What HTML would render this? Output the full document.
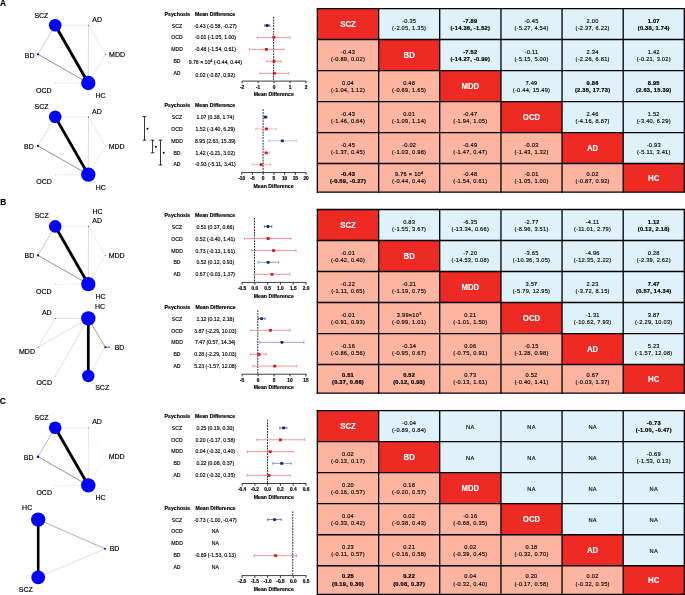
<!DOCTYPE html>
<html><head><meta charset="utf-8"><title>Figure</title>
<style>
html,body{margin:0;padding:0;background:#fff;}
body{width:685px;height:595px;overflow:hidden;}
svg{display:block;font-family:"Liberation Sans", sans-serif;will-change:transform;}
svg text{font-family:"Liberation Sans", sans-serif;}
svg text.n{stroke:#000;stroke-width:0.14px;}
svg text.bc{stroke:#000;stroke-width:0.2px;}
svg text.b{stroke:#000;stroke-width:0.17px;font-weight:bold;}
</style></head><body>
<svg width="685" height="595" viewBox="0 0 685 595">
<rect width="685" height="595" fill="#fff"/>
<text x="0.0" y="5.7" font-size="8.3" font-weight="bold" stroke="#000" stroke-width="0.15">A</text>
<text x="0.35" y="204.9" font-size="8.3" font-weight="bold" stroke="#000" stroke-width="0.15">B</text>
<text x="-0.2" y="403.8" font-size="8.3" font-weight="bold" stroke="#000" stroke-width="0.15">C</text>
<line x1="55.20" y1="25.30" x2="88.50" y2="25.30" stroke="#dedede" stroke-width="0.55"/>
<line x1="88.50" y1="25.30" x2="88.30" y2="83.00" stroke="#cacaca" stroke-width="0.65"/>
<line x1="88.50" y1="25.30" x2="105.30" y2="54.40" stroke="#dcdce4" stroke-width="0.55"/>
<line x1="105.30" y1="54.40" x2="88.30" y2="83.00" stroke="#dedee4" stroke-width="0.55"/>
<line x1="55.20" y1="83.20" x2="88.30" y2="83.00" stroke="#dcdcec" stroke-width="0.5"/>
<line x1="55.20" y1="25.30" x2="38.00" y2="54.30" stroke="#8a8a8a" stroke-width="0.45"/>
<line x1="38.00" y1="54.30" x2="88.30" y2="83.00" stroke="#222" stroke-width="0.5"/>
<line x1="55.20" y1="25.30" x2="88.30" y2="83.00" stroke="#000" stroke-width="2.9"/>
<circle cx="55.20" cy="25.30" r="6.3" fill="#0000ff"/>
<circle cx="88.30" cy="83.00" r="7.2" fill="#0000ff"/>
<circle cx="38.00" cy="54.30" r="1.15" fill="#0000ff"/>
<circle cx="88.50" cy="25.30" r="0.55" fill="#3030ff"/>
<circle cx="105.30" cy="54.40" r="0.6" fill="#7070ff"/>
<circle cx="55.20" cy="83.20" r="0.45" fill="#7a7aff"/>
<text x="34.40" y="17.50" font-size="7.0" fill="#000" stroke="#000" stroke-width="0.17">SCZ</text>
<text x="92.30" y="22.10" font-size="7.0" fill="#000" stroke="#000" stroke-width="0.17">AD</text>
<text x="109.10" y="57.40" font-size="7.0" fill="#000" stroke="#000" stroke-width="0.17">MDD</text>
<text x="24.80" y="57.80" font-size="7.0" fill="#000" stroke="#000" stroke-width="0.17">BD</text>
<text x="36.10" y="92.70" font-size="7.0" fill="#000" stroke="#000" stroke-width="0.17">OCD</text>
<text x="95.50" y="98.40" font-size="7.0" fill="#000" stroke="#000" stroke-width="0.17">HC</text>
<line x1="55.20" y1="116.90" x2="88.50" y2="116.90" stroke="#dedede" stroke-width="0.55"/>
<line x1="88.50" y1="116.90" x2="88.30" y2="174.60" stroke="#cacaca" stroke-width="0.65"/>
<line x1="88.50" y1="116.90" x2="105.30" y2="146.00" stroke="#dcdce4" stroke-width="0.55"/>
<line x1="105.30" y1="146.00" x2="88.30" y2="174.60" stroke="#dedee4" stroke-width="0.55"/>
<line x1="55.20" y1="174.80" x2="88.30" y2="174.60" stroke="#dcdcec" stroke-width="0.5"/>
<line x1="55.20" y1="116.90" x2="38.00" y2="145.90" stroke="#bdbdbd" stroke-width="0.45"/>
<line x1="38.00" y1="145.90" x2="88.30" y2="174.60" stroke="#222" stroke-width="0.5"/>
<line x1="55.20" y1="116.90" x2="88.30" y2="174.60" stroke="#000" stroke-width="2.9"/>
<circle cx="55.20" cy="116.90" r="6.3" fill="#0000ff"/>
<circle cx="88.30" cy="174.60" r="7.2" fill="#0000ff"/>
<circle cx="38.00" cy="145.90" r="1.15" fill="#0000ff"/>
<circle cx="88.50" cy="116.90" r="0.55" fill="#3030ff"/>
<circle cx="105.30" cy="146.00" r="0.6" fill="#7070ff"/>
<circle cx="55.20" cy="174.80" r="0.45" fill="#7a7aff"/>
<text x="34.60" y="108.90" font-size="7.0" fill="#000" stroke="#000" stroke-width="0.17">SCZ</text>
<text x="92.10" y="113.50" font-size="7.0" fill="#000" stroke="#000" stroke-width="0.17">AD</text>
<text x="108.70" y="149.00" font-size="7.0" fill="#000" stroke="#000" stroke-width="0.17">MDD</text>
<text x="24.00" y="149.00" font-size="7.0" fill="#000" stroke="#000" stroke-width="0.17">BD</text>
<text x="36.20" y="183.80" font-size="7.0" fill="#000" stroke="#000" stroke-width="0.17">OCD</text>
<text x="95.70" y="189.70" font-size="7.0" fill="#000" stroke="#000" stroke-width="0.17">HC</text>
<line x1="55.20" y1="226.40" x2="88.50" y2="226.40" stroke="#dedede" stroke-width="0.55"/>
<line x1="88.50" y1="226.40" x2="88.30" y2="284.10" stroke="#cacaca" stroke-width="0.65"/>
<line x1="88.50" y1="226.40" x2="105.30" y2="255.50" stroke="#dcdce4" stroke-width="0.55"/>
<line x1="105.30" y1="255.50" x2="88.30" y2="284.10" stroke="#dedee4" stroke-width="0.55"/>
<line x1="55.20" y1="284.30" x2="88.30" y2="284.10" stroke="#dcdcec" stroke-width="0.5"/>
<line x1="55.20" y1="226.40" x2="38.00" y2="255.40" stroke="#8a8a8a" stroke-width="0.45"/>
<line x1="38.00" y1="255.40" x2="88.30" y2="284.10" stroke="#222" stroke-width="0.5"/>
<line x1="55.20" y1="226.40" x2="88.30" y2="284.10" stroke="#000" stroke-width="2.9"/>
<circle cx="55.20" cy="226.40" r="6.3" fill="#0000ff"/>
<circle cx="88.30" cy="284.10" r="7.2" fill="#0000ff"/>
<circle cx="38.00" cy="255.40" r="1.15" fill="#0000ff"/>
<circle cx="88.50" cy="226.40" r="0.55" fill="#3030ff"/>
<circle cx="105.30" cy="255.50" r="0.6" fill="#7070ff"/>
<circle cx="55.20" cy="284.30" r="0.45" fill="#7a7aff"/>
<text x="34.70" y="218.00" font-size="7.0" fill="#000" stroke="#000" stroke-width="0.17">SCZ</text>
<text x="92.40" y="214.30" font-size="7.0" fill="#000" stroke="#000" stroke-width="0.17">HC</text>
<text x="92.30" y="223.10" font-size="7.0" fill="#000" stroke="#000" stroke-width="0.17">AD</text>
<text x="108.70" y="258.20" font-size="7.0" fill="#000" stroke="#000" stroke-width="0.17">MDD</text>
<text x="24.60" y="258.20" font-size="7.0" fill="#000" stroke="#000" stroke-width="0.17">BD</text>
<text x="36.10" y="294.00" font-size="7.0" fill="#000" stroke="#000" stroke-width="0.17">OCD</text>
<text x="95.50" y="299.30" font-size="7.0" fill="#000" stroke="#000" stroke-width="0.17">HC</text>
<line x1="88.30" y1="318.40" x2="55.20" y2="318.40" stroke="#cecece" stroke-width="0.6"/>
<line x1="55.20" y1="318.40" x2="38.00" y2="347.20" stroke="#cecece" stroke-width="0.6"/>
<line x1="88.30" y1="318.40" x2="38.00" y2="347.20" stroke="#cacaca" stroke-width="0.6"/>
<line x1="88.30" y1="318.40" x2="55.20" y2="376.20" stroke="#ccccd6" stroke-width="0.6"/>
<line x1="105.30" y1="347.20" x2="88.30" y2="376.00" stroke="#cfcfcf" stroke-width="0.5"/>
<line x1="88.30" y1="318.40" x2="105.30" y2="347.20" stroke="#333" stroke-width="0.5"/>
<line x1="105.80" y1="347.20" x2="110.30" y2="347.20" stroke="#969696" stroke-width="1.5"/>
<line x1="88.30" y1="318.40" x2="88.30" y2="376.00" stroke="#000" stroke-width="2.8"/>
<circle cx="88.30" cy="318.40" r="7.2" fill="#0000ff"/>
<circle cx="88.30" cy="376.00" r="6.2" fill="#0000ff"/>
<circle cx="105.30" cy="347.20" r="1.0" fill="#0000ff"/>
<circle cx="55.20" cy="318.40" r="0.55" fill="#3030ff"/>
<circle cx="38.00" cy="347.20" r="0.55" fill="#5050ff"/>
<circle cx="55.20" cy="376.20" r="0.45" fill="#7a7aff"/>
<text x="95.00" y="309.40" font-size="7.0" fill="#000" stroke="#000" stroke-width="0.17">HC</text>
<text x="41.90" y="314.70" font-size="7.0" fill="#000" stroke="#000" stroke-width="0.17">AD</text>
<text x="19.00" y="354.20" font-size="7.0" fill="#000" stroke="#000" stroke-width="0.17">MDD</text>
<text x="114.70" y="350.10" font-size="7.0" fill="#000" stroke="#000" stroke-width="0.17">BD</text>
<text x="36.40" y="385.00" font-size="7.0" fill="#000" stroke="#000" stroke-width="0.17">OCD</text>
<text x="95.20" y="390.30" font-size="7.0" fill="#000" stroke="#000" stroke-width="0.17">SCZ</text>
<line x1="55.20" y1="427.70" x2="88.50" y2="427.70" stroke="#ececec" stroke-width="0.5"/>
<line x1="88.50" y1="427.70" x2="88.30" y2="485.40" stroke="#dadada" stroke-width="0.6"/>
<line x1="88.50" y1="427.70" x2="105.30" y2="456.80" stroke="#ececf4" stroke-width="0.5"/>
<line x1="105.30" y1="456.80" x2="88.30" y2="485.40" stroke="#ececf2" stroke-width="0.5"/>
<line x1="55.20" y1="485.60" x2="88.30" y2="485.40" stroke="#e4e4f0" stroke-width="0.5"/>
<line x1="55.20" y1="427.70" x2="38.00" y2="456.70" stroke="#5a5a5a" stroke-width="0.45"/>
<line x1="38.00" y1="456.70" x2="88.30" y2="485.40" stroke="#222" stroke-width="0.5"/>
<line x1="55.20" y1="427.70" x2="88.30" y2="485.40" stroke="#000" stroke-width="2.9"/>
<circle cx="55.20" cy="427.70" r="6.3" fill="#0000ff"/>
<circle cx="88.30" cy="485.40" r="7.2" fill="#0000ff"/>
<circle cx="38.00" cy="456.70" r="1.25" fill="#0000ff"/>
<circle cx="88.50" cy="427.70" r="0.55" fill="#6060ff"/>
<circle cx="105.30" cy="456.80" r="0.6" fill="#c0c0ff"/>
<circle cx="55.20" cy="485.60" r="0.45" fill="#9a9aff"/>
<text x="34.60" y="419.50" font-size="7.0" fill="#000" stroke="#000" stroke-width="0.17">SCZ</text>
<text x="92.20" y="424.20" font-size="7.0" fill="#000" stroke="#000" stroke-width="0.17">AD</text>
<text x="108.70" y="459.40" font-size="7.0" fill="#000" stroke="#000" stroke-width="0.17">MDD</text>
<text x="23.80" y="459.60" font-size="7.0" fill="#000" stroke="#000" stroke-width="0.17">BD</text>
<text x="36.40" y="495.00" font-size="7.0" fill="#000" stroke="#000" stroke-width="0.17">OCD</text>
<text x="95.50" y="500.10" font-size="7.0" fill="#000" stroke="#000" stroke-width="0.17">HC</text>
<line x1="38.20" y1="519.60" x2="105.00" y2="548.70" stroke="#6a6a6a" stroke-width="0.55"/>
<line x1="38.20" y1="577.30" x2="105.00" y2="548.70" stroke="#c4c4c4" stroke-width="0.55"/>
<line x1="38.20" y1="519.60" x2="38.20" y2="577.30" stroke="#000" stroke-width="2.6"/>
<circle cx="38.20" cy="519.60" r="7.2" fill="#0000ff"/>
<circle cx="38.20" cy="577.30" r="6.9" fill="#0000ff"/>
<circle cx="105.00" cy="548.70" r="1.0" fill="#0000ff"/>
<text x="22.10" y="510.00" font-size="7.0" fill="#000" stroke="#000" stroke-width="0.17">HC</text>
<text x="109.70" y="550.90" font-size="7.0" fill="#000" stroke="#000" stroke-width="0.17">BD</text>
<text x="18.80" y="592.00" font-size="7.0" fill="#000" stroke="#000" stroke-width="0.17">SCZ</text>
<text x="164.6" y="15.70" font-size="5.2" class="b">Psychosis</text>
<text x="195.00" y="15.70" font-size="5.2" class="b">Mean Difference</text>
<text x="177.0" y="27.70" text-anchor="middle" font-size="5.15" class="n">SCZ</text>
<text x="215.3" y="27.70" text-anchor="middle" font-size="5.15" class="n">-0.43 (-0.58, -0.27)</text>
<text x="177.0" y="39.10" text-anchor="middle" font-size="5.15" class="n">OCD</text>
<text x="215.3" y="39.10" text-anchor="middle" font-size="5.15" class="n">-0.01 (-1.05, 1.00)</text>
<text x="177.0" y="51.30" text-anchor="middle" font-size="5.15" class="n">MDD</text>
<text x="215.3" y="51.30" text-anchor="middle" font-size="5.15" class="n">-0.48 (-1.54, 0.61)</text>
<text x="177.0" y="63.00" text-anchor="middle" font-size="5.15" class="n">BD</text>
<text x="215.3" y="64.00" text-anchor="middle" font-size="5.15" class="n">9.76 × 10<tspan dy="-2" font-size="3.8">4</tspan><tspan dy="2"> (-0.44, 0.44)</tspan></text>
<text x="177.0" y="74.80" text-anchor="middle" font-size="5.15" class="n">AD</text>
<text x="215.3" y="77.10" text-anchor="middle" font-size="5.15" class="n">0.02 (-0.87, 0.92)</text>
<line x1="273.65" y1="16.80" x2="273.65" y2="81.10" stroke="#000" stroke-width="0.85" stroke-dasharray="1.8,1.0"/>
<line x1="264.78" y1="25.50" x2="269.74" y2="25.50" stroke="#3a55a0" stroke-width="0.75"/>
<line x1="264.78" y1="24.10" x2="264.78" y2="26.90" stroke="#3a55a0" stroke-width="0.75"/>
<line x1="269.74" y1="24.10" x2="269.74" y2="26.90" stroke="#3a55a0" stroke-width="0.75"/>
<rect x="265.68" y="24.10" width="3.0" height="2.8" rx="0.9" fill="#0c2577"/>
<line x1="257.28" y1="37.40" x2="290.02" y2="37.40" stroke="#f2767b" stroke-width="0.75"/>
<line x1="257.28" y1="36.00" x2="257.28" y2="38.80" stroke="#f2767b" stroke-width="0.75"/>
<line x1="290.02" y1="36.00" x2="290.02" y2="38.80" stroke="#f2767b" stroke-width="0.75"/>
<rect x="272.44" y="36.00" width="2.9" height="2.8" rx="0.4" fill="#e60f1e"/>
<line x1="249.45" y1="49.40" x2="283.79" y2="49.40" stroke="#f2767b" stroke-width="0.75"/>
<line x1="249.45" y1="48.00" x2="249.45" y2="50.80" stroke="#f2767b" stroke-width="0.75"/>
<line x1="283.79" y1="48.00" x2="283.79" y2="50.80" stroke="#f2767b" stroke-width="0.75"/>
<rect x="264.93" y="48.00" width="2.9" height="2.8" rx="0.4" fill="#e60f1e"/>
<line x1="267.02" y1="61.30" x2="281.08" y2="61.30" stroke="#f2767b" stroke-width="0.75"/>
<line x1="267.02" y1="59.90" x2="267.02" y2="62.70" stroke="#f2767b" stroke-width="0.75"/>
<line x1="281.08" y1="59.90" x2="281.08" y2="62.70" stroke="#f2767b" stroke-width="0.75"/>
<rect x="272.60" y="59.90" width="2.9" height="2.8" rx="0.4" fill="#e60f1e"/>
<line x1="260.15" y1="73.30" x2="288.75" y2="73.30" stroke="#f2767b" stroke-width="0.75"/>
<line x1="260.15" y1="71.90" x2="260.15" y2="74.70" stroke="#f2767b" stroke-width="0.75"/>
<line x1="288.75" y1="71.90" x2="288.75" y2="74.70" stroke="#f2767b" stroke-width="0.75"/>
<rect x="272.92" y="71.90" width="2.9" height="2.8" rx="0.4" fill="#e60f1e"/>
<line x1="241.80" y1="81.10" x2="306.30" y2="81.10" stroke="#000" stroke-width="0.75"/>
<line x1="242.10" y1="81.10" x2="242.10" y2="83.30" stroke="#000" stroke-width="0.8"/>
<text x="242.10" y="88.90" text-anchor="middle" font-size="4.8" class="b">-2</text>
<line x1="258.07" y1="81.10" x2="258.07" y2="83.30" stroke="#000" stroke-width="0.8"/>
<text x="258.07" y="88.90" text-anchor="middle" font-size="4.8" class="b">-1</text>
<line x1="274.05" y1="81.10" x2="274.05" y2="83.30" stroke="#000" stroke-width="0.8"/>
<text x="274.05" y="88.90" text-anchor="middle" font-size="4.8" class="b">0</text>
<line x1="290.02" y1="81.10" x2="290.02" y2="83.30" stroke="#000" stroke-width="0.8"/>
<text x="290.02" y="88.90" text-anchor="middle" font-size="4.8" class="b">1</text>
<line x1="306.00" y1="81.10" x2="306.00" y2="83.30" stroke="#000" stroke-width="0.8"/>
<text x="306.00" y="88.90" text-anchor="middle" font-size="4.8" class="b">2</text>
<text x="273.75" y="96.30" text-anchor="middle" font-size="5.2" class="b">Mean Difference</text>
<text x="164.6" y="106.80" font-size="5.2" class="b">Psychosis</text>
<text x="195.00" y="106.80" font-size="5.2" class="b">Mean Difference</text>
<text x="177.0" y="119.20" text-anchor="middle" font-size="5.15" class="n">SCZ</text>
<text x="215.3" y="119.20" text-anchor="middle" font-size="5.15" class="n">1.07 (0.38, 1.74)</text>
<text x="177.0" y="130.80" text-anchor="middle" font-size="5.15" class="n">OCD</text>
<text x="215.3" y="130.80" text-anchor="middle" font-size="5.15" class="n">1.52 (-3.40, 6.29)</text>
<text x="177.0" y="142.60" text-anchor="middle" font-size="5.15" class="n">MDD</text>
<text x="215.3" y="142.60" text-anchor="middle" font-size="5.15" class="n">8.95 (2.63, 15.39)</text>
<text x="177.0" y="154.50" text-anchor="middle" font-size="5.15" class="n">BD</text>
<text x="215.3" y="154.50" text-anchor="middle" font-size="5.15" class="n">1.42 (-0.21, 3.02)</text>
<text x="177.0" y="166.10" text-anchor="middle" font-size="5.15" class="n">AD</text>
<text x="215.3" y="166.10" text-anchor="middle" font-size="5.15" class="n">-0.93 (-5.11, 3.41)</text>
<line x1="263.10" y1="109.20" x2="263.10" y2="172.60" stroke="#000" stroke-width="0.85" stroke-dasharray="1.8,1.0"/>
<line x1="263.98" y1="117.10" x2="266.90" y2="117.10" stroke="#3a55a0" stroke-width="0.75"/>
<line x1="263.98" y1="115.70" x2="263.98" y2="118.50" stroke="#3a55a0" stroke-width="0.75"/>
<line x1="266.90" y1="115.70" x2="266.90" y2="118.50" stroke="#3a55a0" stroke-width="0.75"/>
<rect x="263.96" y="115.70" width="3.0" height="2.8" rx="0.9" fill="#0c2577"/>
<line x1="255.87" y1="128.90" x2="276.67" y2="128.90" stroke="#f5a3a8" stroke-width="0.75"/>
<line x1="255.87" y1="127.50" x2="255.87" y2="130.30" stroke="#f5a3a8" stroke-width="0.75"/>
<line x1="276.67" y1="127.50" x2="276.67" y2="130.30" stroke="#f5a3a8" stroke-width="0.75"/>
<rect x="264.98" y="127.50" width="2.9" height="2.8" rx="0.4" fill="#e60f1e"/>
<line x1="268.81" y1="140.80" x2="296.20" y2="140.80" stroke="#a9b6d6" stroke-width="0.75"/>
<line x1="268.81" y1="139.40" x2="268.81" y2="142.20" stroke="#a9b6d6" stroke-width="0.75"/>
<line x1="296.20" y1="139.40" x2="296.20" y2="142.20" stroke="#a9b6d6" stroke-width="0.75"/>
<rect x="280.88" y="139.40" width="3.0" height="2.8" rx="0.9" fill="#0c2577"/>
<line x1="262.72" y1="152.80" x2="269.65" y2="152.80" stroke="#f5a3a8" stroke-width="0.75"/>
<line x1="262.72" y1="151.40" x2="262.72" y2="154.20" stroke="#f5a3a8" stroke-width="0.75"/>
<line x1="269.65" y1="151.40" x2="269.65" y2="154.20" stroke="#f5a3a8" stroke-width="0.75"/>
<rect x="264.76" y="151.40" width="2.9" height="2.8" rx="0.4" fill="#e60f1e"/>
<line x1="252.20" y1="164.70" x2="270.49" y2="164.70" stroke="#f5a3a8" stroke-width="0.75"/>
<line x1="252.20" y1="163.30" x2="252.20" y2="166.10" stroke="#f5a3a8" stroke-width="0.75"/>
<line x1="270.49" y1="163.30" x2="270.49" y2="166.10" stroke="#f5a3a8" stroke-width="0.75"/>
<rect x="259.72" y="163.30" width="2.9" height="2.8" rx="0.4" fill="#e60f1e"/>
<line x1="241.40" y1="172.60" x2="306.40" y2="172.60" stroke="#000" stroke-width="0.75"/>
<line x1="241.70" y1="172.60" x2="241.70" y2="174.80" stroke="#000" stroke-width="0.8"/>
<text x="241.70" y="180.40" text-anchor="middle" font-size="4.8" class="b">-10</text>
<line x1="252.43" y1="172.60" x2="252.43" y2="174.80" stroke="#000" stroke-width="0.8"/>
<text x="252.43" y="180.40" text-anchor="middle" font-size="4.8" class="b">-5</text>
<line x1="263.17" y1="172.60" x2="263.17" y2="174.80" stroke="#000" stroke-width="0.8"/>
<text x="263.17" y="180.40" text-anchor="middle" font-size="4.8" class="b">0</text>
<line x1="273.90" y1="172.60" x2="273.90" y2="174.80" stroke="#000" stroke-width="0.8"/>
<text x="273.90" y="180.40" text-anchor="middle" font-size="4.8" class="b">5</text>
<line x1="284.63" y1="172.60" x2="284.63" y2="174.80" stroke="#000" stroke-width="0.8"/>
<text x="284.63" y="180.40" text-anchor="middle" font-size="4.8" class="b">10</text>
<line x1="295.37" y1="172.60" x2="295.37" y2="174.80" stroke="#000" stroke-width="0.8"/>
<text x="295.37" y="180.40" text-anchor="middle" font-size="4.8" class="b">15</text>
<line x1="306.10" y1="172.60" x2="306.10" y2="174.80" stroke="#000" stroke-width="0.8"/>
<text x="306.10" y="180.40" text-anchor="middle" font-size="4.8" class="b">20</text>
<text x="273.60" y="187.80" text-anchor="middle" font-size="5.2" class="b">Mean Difference</text>
<path d="M142.70,116.60H146.30M144.50,116.60V140.20M142.70,140.20H146.30" stroke="#000" stroke-width="0.8" fill="none"/>
<circle cx="147.50" cy="128.80" r="1.0" fill="#000"/>
<path d="M150.80,140.20H154.40M152.60,140.20V152.80M150.80,152.80H154.40" stroke="#000" stroke-width="0.8" fill="none"/>
<circle cx="155.80" cy="146.80" r="1.0" fill="#000"/>
<path d="M158.70,140.20H162.30M160.50,140.20V165.00M158.70,165.00H162.30" stroke="#000" stroke-width="0.8" fill="none"/>
<circle cx="163.70" cy="152.80" r="1.0" fill="#000"/>
<text x="164.6" y="217.00" font-size="5.2" class="b">Psychosis</text>
<text x="195.00" y="217.00" font-size="5.2" class="b">Mean Difference</text>
<text x="177.0" y="229.00" text-anchor="middle" font-size="5.15" class="n">SCZ</text>
<text x="215.3" y="229.00" text-anchor="middle" font-size="5.15" class="n">0.51 (0.37, 0.66)</text>
<text x="177.0" y="240.80" text-anchor="middle" font-size="5.15" class="n">OCD</text>
<text x="215.3" y="240.80" text-anchor="middle" font-size="5.15" class="n">0.52 (-0.40, 1.41)</text>
<text x="177.0" y="252.70" text-anchor="middle" font-size="5.15" class="n">MDD</text>
<text x="215.3" y="252.70" text-anchor="middle" font-size="5.15" class="n">0.73 (-0.13, 1.61)</text>
<text x="177.0" y="264.30" text-anchor="middle" font-size="5.15" class="n">BD</text>
<text x="215.3" y="264.30" text-anchor="middle" font-size="5.15" class="n">0.52 (0.12, 0.93)</text>
<text x="177.0" y="276.10" text-anchor="middle" font-size="5.15" class="n">AD</text>
<text x="215.3" y="276.10" text-anchor="middle" font-size="5.15" class="n">0.67 (-0.03, 1.37)</text>
<line x1="254.50" y1="217.90" x2="254.50" y2="282.40" stroke="#000" stroke-width="0.85" stroke-dasharray="1.8,1.0"/>
<line x1="264.34" y1="226.50" x2="271.75" y2="226.50" stroke="#3a55a0" stroke-width="0.75"/>
<line x1="264.34" y1="225.10" x2="264.34" y2="227.90" stroke="#3a55a0" stroke-width="0.75"/>
<line x1="271.75" y1="225.10" x2="271.75" y2="227.90" stroke="#3a55a0" stroke-width="0.75"/>
<rect x="266.42" y="225.10" width="3.0" height="2.8" rx="0.9" fill="#0c2577"/>
<line x1="244.66" y1="238.50" x2="290.92" y2="238.50" stroke="#f2767b" stroke-width="0.75"/>
<line x1="244.66" y1="237.10" x2="244.66" y2="239.90" stroke="#f2767b" stroke-width="0.75"/>
<line x1="290.92" y1="237.10" x2="290.92" y2="239.90" stroke="#f2767b" stroke-width="0.75"/>
<rect x="266.72" y="237.10" width="2.9" height="2.8" rx="0.4" fill="#e60f1e"/>
<line x1="251.56" y1="250.50" x2="296.03" y2="250.50" stroke="#f2767b" stroke-width="0.75"/>
<line x1="251.56" y1="249.10" x2="251.56" y2="251.90" stroke="#f2767b" stroke-width="0.75"/>
<line x1="296.03" y1="249.10" x2="296.03" y2="251.90" stroke="#f2767b" stroke-width="0.75"/>
<rect x="272.09" y="249.10" width="2.9" height="2.8" rx="0.4" fill="#e60f1e"/>
<line x1="257.95" y1="262.30" x2="278.65" y2="262.30" stroke="#6a86c0" stroke-width="0.75"/>
<line x1="257.95" y1="260.90" x2="257.95" y2="263.70" stroke="#6a86c0" stroke-width="0.75"/>
<line x1="278.65" y1="260.90" x2="278.65" y2="263.70" stroke="#6a86c0" stroke-width="0.75"/>
<rect x="266.67" y="260.90" width="3.0" height="2.8" rx="0.9" fill="#0c2577"/>
<line x1="254.11" y1="274.30" x2="289.90" y2="274.30" stroke="#f2767b" stroke-width="0.75"/>
<line x1="254.11" y1="272.90" x2="254.11" y2="275.70" stroke="#f2767b" stroke-width="0.75"/>
<line x1="289.90" y1="272.90" x2="289.90" y2="275.70" stroke="#f2767b" stroke-width="0.75"/>
<rect x="270.56" y="272.90" width="2.9" height="2.8" rx="0.4" fill="#e60f1e"/>
<line x1="241.80" y1="282.40" x2="306.30" y2="282.40" stroke="#000" stroke-width="0.75"/>
<line x1="242.10" y1="282.40" x2="242.10" y2="284.60" stroke="#000" stroke-width="0.8"/>
<text x="242.10" y="290.20" text-anchor="middle" font-size="4.8" class="b">-0.5</text>
<line x1="254.88" y1="282.40" x2="254.88" y2="284.60" stroke="#000" stroke-width="0.8"/>
<text x="254.88" y="290.20" text-anchor="middle" font-size="4.8" class="b">0.0</text>
<line x1="267.66" y1="282.40" x2="267.66" y2="284.60" stroke="#000" stroke-width="0.8"/>
<text x="267.66" y="290.20" text-anchor="middle" font-size="4.8" class="b">0.5</text>
<line x1="280.44" y1="282.40" x2="280.44" y2="284.60" stroke="#000" stroke-width="0.8"/>
<text x="280.44" y="290.20" text-anchor="middle" font-size="4.8" class="b">1.0</text>
<line x1="293.22" y1="282.40" x2="293.22" y2="284.60" stroke="#000" stroke-width="0.8"/>
<text x="293.22" y="290.20" text-anchor="middle" font-size="4.8" class="b">1.5</text>
<line x1="306.00" y1="282.40" x2="306.00" y2="284.60" stroke="#000" stroke-width="0.8"/>
<text x="306.00" y="290.20" text-anchor="middle" font-size="4.8" class="b">2.0</text>
<text x="273.75" y="297.60" text-anchor="middle" font-size="5.2" class="b">Mean Difference</text>
<text x="164.6" y="308.60" font-size="5.2" class="b">Psychosis</text>
<text x="195.60" y="308.60" font-size="5.2" class="b">Mean Difference</text>
<text x="177.0" y="320.50" text-anchor="middle" font-size="5.15" class="n">SCZ</text>
<text x="215.3" y="320.50" text-anchor="middle" font-size="5.15" class="n">1.12 (0.12, 2.18)</text>
<text x="177.0" y="332.60" text-anchor="middle" font-size="5.15" class="n">OCD</text>
<text x="215.3" y="332.60" text-anchor="middle" font-size="5.15" class="n">3.87 (-2.29, 10.03)</text>
<text x="177.0" y="344.20" text-anchor="middle" font-size="5.15" class="n">MDD</text>
<text x="215.3" y="344.20" text-anchor="middle" font-size="5.15" class="n">7.47 (0.57, 14.34)</text>
<text x="177.0" y="356.20" text-anchor="middle" font-size="5.15" class="n">BD</text>
<text x="215.3" y="356.20" text-anchor="middle" font-size="5.15" class="n">0.28 (-2.29, 10.03)</text>
<text x="177.0" y="367.80" text-anchor="middle" font-size="5.15" class="n">AD</text>
<text x="215.3" y="367.80" text-anchor="middle" font-size="5.15" class="n">5.23 (-1.57, 12.08)</text>
<line x1="257.80" y1="310.20" x2="257.80" y2="374.20" stroke="#000" stroke-width="0.85" stroke-dasharray="1.8,1.0"/>
<line x1="258.46" y1="318.60" x2="265.04" y2="318.60" stroke="#3a55a0" stroke-width="0.75"/>
<line x1="258.46" y1="317.20" x2="258.46" y2="320.00" stroke="#3a55a0" stroke-width="0.75"/>
<line x1="265.04" y1="317.20" x2="265.04" y2="320.00" stroke="#3a55a0" stroke-width="0.75"/>
<rect x="260.15" y="317.20" width="3.0" height="2.8" rx="0.9" fill="#0c2577"/>
<line x1="250.76" y1="330.30" x2="290.12" y2="330.30" stroke="#f2767b" stroke-width="0.75"/>
<line x1="250.76" y1="328.90" x2="250.76" y2="331.70" stroke="#f2767b" stroke-width="0.75"/>
<line x1="290.12" y1="328.90" x2="290.12" y2="331.70" stroke="#f2767b" stroke-width="0.75"/>
<rect x="268.99" y="328.90" width="2.9" height="2.8" rx="0.4" fill="#e60f1e"/>
<line x1="259.90" y1="342.30" x2="303.89" y2="342.30" stroke="#6a86c0" stroke-width="0.75"/>
<line x1="259.90" y1="340.90" x2="259.90" y2="343.70" stroke="#6a86c0" stroke-width="0.75"/>
<line x1="303.89" y1="340.90" x2="303.89" y2="343.70" stroke="#6a86c0" stroke-width="0.75"/>
<rect x="280.44" y="340.90" width="3.0" height="2.8" rx="0.9" fill="#0c2577"/>
<line x1="250.44" y1="354.30" x2="266.45" y2="354.30" stroke="#f2767b" stroke-width="0.75"/>
<line x1="250.44" y1="352.90" x2="250.44" y2="355.70" stroke="#f2767b" stroke-width="0.75"/>
<line x1="266.45" y1="352.90" x2="266.45" y2="355.70" stroke="#f2767b" stroke-width="0.75"/>
<rect x="257.52" y="352.90" width="2.9" height="2.8" rx="0.4" fill="#e60f1e"/>
<line x1="253.06" y1="366.10" x2="296.67" y2="366.10" stroke="#f2767b" stroke-width="0.75"/>
<line x1="253.06" y1="364.70" x2="253.06" y2="367.50" stroke="#f2767b" stroke-width="0.75"/>
<line x1="296.67" y1="364.70" x2="296.67" y2="367.50" stroke="#f2767b" stroke-width="0.75"/>
<rect x="273.33" y="364.70" width="2.9" height="2.8" rx="0.4" fill="#e60f1e"/>
<line x1="241.80" y1="374.20" x2="306.30" y2="374.20" stroke="#000" stroke-width="0.75"/>
<line x1="242.10" y1="374.20" x2="242.10" y2="376.40" stroke="#000" stroke-width="0.8"/>
<text x="242.10" y="382.00" text-anchor="middle" font-size="4.8" class="b">-5</text>
<line x1="258.07" y1="374.20" x2="258.07" y2="376.40" stroke="#000" stroke-width="0.8"/>
<text x="258.07" y="382.00" text-anchor="middle" font-size="4.8" class="b">0</text>
<line x1="274.05" y1="374.20" x2="274.05" y2="376.40" stroke="#000" stroke-width="0.8"/>
<text x="274.05" y="382.00" text-anchor="middle" font-size="4.8" class="b">5</text>
<line x1="290.02" y1="374.20" x2="290.02" y2="376.40" stroke="#000" stroke-width="0.8"/>
<text x="290.02" y="382.00" text-anchor="middle" font-size="4.8" class="b">10</text>
<line x1="306.00" y1="374.20" x2="306.00" y2="376.40" stroke="#000" stroke-width="0.8"/>
<text x="306.00" y="382.00" text-anchor="middle" font-size="4.8" class="b">15</text>
<text x="273.75" y="389.40" text-anchor="middle" font-size="5.2" class="b">Mean Difference</text>
<text x="164.6" y="418.40" font-size="5.2" class="b">Psychosis</text>
<text x="195.00" y="418.40" font-size="5.2" class="b">Mean Difference</text>
<text x="177.0" y="429.80" text-anchor="middle" font-size="5.15" class="n">SCZ</text>
<text x="215.3" y="429.80" text-anchor="middle" font-size="5.15" class="n">0.25 (0.19, 0.30)</text>
<text x="177.0" y="441.70" text-anchor="middle" font-size="5.15" class="n">OCD</text>
<text x="215.3" y="441.70" text-anchor="middle" font-size="5.15" class="n">0.20 (-0.17, 0.58)</text>
<text x="177.0" y="453.00" text-anchor="middle" font-size="5.15" class="n">MDD</text>
<text x="215.3" y="453.00" text-anchor="middle" font-size="5.15" class="n">0.04 (-0.32, 0.40)</text>
<text x="177.0" y="465.40" text-anchor="middle" font-size="5.15" class="n">BD</text>
<text x="215.3" y="465.40" text-anchor="middle" font-size="5.15" class="n">0.22 (0.08, 0.37)</text>
<text x="177.0" y="477.20" text-anchor="middle" font-size="5.15" class="n">AD</text>
<text x="215.3" y="477.20" text-anchor="middle" font-size="5.15" class="n">0.02 (-0.32, 0.35)</text>
<line x1="267.50" y1="419.70" x2="267.50" y2="483.50" stroke="#000" stroke-width="0.85" stroke-dasharray="1.8,1.0"/>
<line x1="279.80" y1="427.90" x2="286.83" y2="427.90" stroke="#3a55a0" stroke-width="0.75"/>
<line x1="279.80" y1="426.50" x2="279.80" y2="429.30" stroke="#3a55a0" stroke-width="0.75"/>
<line x1="286.83" y1="426.50" x2="286.83" y2="429.30" stroke="#3a55a0" stroke-width="0.75"/>
<rect x="282.13" y="426.50" width="3.0" height="2.8" rx="0.9" fill="#0c2577"/>
<line x1="256.80" y1="439.80" x2="304.72" y2="439.80" stroke="#f2767b" stroke-width="0.75"/>
<line x1="256.80" y1="438.40" x2="256.80" y2="441.20" stroke="#f2767b" stroke-width="0.75"/>
<line x1="304.72" y1="438.40" x2="304.72" y2="441.20" stroke="#f2767b" stroke-width="0.75"/>
<rect x="278.99" y="438.40" width="2.9" height="2.8" rx="0.4" fill="#e60f1e"/>
<line x1="247.21" y1="451.60" x2="293.22" y2="451.60" stroke="#f2767b" stroke-width="0.75"/>
<line x1="247.21" y1="450.20" x2="247.21" y2="453.00" stroke="#f2767b" stroke-width="0.75"/>
<line x1="293.22" y1="450.20" x2="293.22" y2="453.00" stroke="#f2767b" stroke-width="0.75"/>
<rect x="268.77" y="450.20" width="2.9" height="2.8" rx="0.4" fill="#e60f1e"/>
<line x1="272.77" y1="463.40" x2="291.30" y2="463.40" stroke="#6a86c0" stroke-width="0.75"/>
<line x1="272.77" y1="462.00" x2="272.77" y2="464.80" stroke="#6a86c0" stroke-width="0.75"/>
<line x1="291.30" y1="462.00" x2="291.30" y2="464.80" stroke="#6a86c0" stroke-width="0.75"/>
<rect x="280.22" y="462.00" width="3.0" height="2.8" rx="0.9" fill="#0c2577"/>
<line x1="247.21" y1="475.40" x2="290.02" y2="475.40" stroke="#f2767b" stroke-width="0.75"/>
<line x1="247.21" y1="474.00" x2="247.21" y2="476.80" stroke="#f2767b" stroke-width="0.75"/>
<line x1="290.02" y1="474.00" x2="290.02" y2="476.80" stroke="#f2767b" stroke-width="0.75"/>
<rect x="267.49" y="474.00" width="2.9" height="2.8" rx="0.4" fill="#e60f1e"/>
<line x1="241.80" y1="483.50" x2="306.30" y2="483.50" stroke="#000" stroke-width="0.75"/>
<line x1="242.10" y1="483.50" x2="242.10" y2="485.70" stroke="#000" stroke-width="0.8"/>
<text x="242.10" y="491.30" text-anchor="middle" font-size="4.8" class="b">-0.4</text>
<line x1="254.88" y1="483.50" x2="254.88" y2="485.70" stroke="#000" stroke-width="0.8"/>
<text x="254.88" y="491.30" text-anchor="middle" font-size="4.8" class="b">-0.2</text>
<line x1="267.66" y1="483.50" x2="267.66" y2="485.70" stroke="#000" stroke-width="0.8"/>
<text x="267.66" y="491.30" text-anchor="middle" font-size="4.8" class="b">0.0</text>
<line x1="280.44" y1="483.50" x2="280.44" y2="485.70" stroke="#000" stroke-width="0.8"/>
<text x="280.44" y="491.30" text-anchor="middle" font-size="4.8" class="b">0.2</text>
<line x1="293.22" y1="483.50" x2="293.22" y2="485.70" stroke="#000" stroke-width="0.8"/>
<text x="293.22" y="491.30" text-anchor="middle" font-size="4.8" class="b">0.4</text>
<line x1="306.00" y1="483.50" x2="306.00" y2="485.70" stroke="#000" stroke-width="0.8"/>
<text x="306.00" y="491.30" text-anchor="middle" font-size="4.8" class="b">0.6</text>
<text x="273.75" y="498.70" text-anchor="middle" font-size="5.2" class="b">Mean Difference</text>
<text x="164.6" y="510.00" font-size="5.2" class="b">Psychosis</text>
<text x="195.60" y="510.00" font-size="5.2" class="b">Mean Difference</text>
<text x="177.0" y="521.70" text-anchor="middle" font-size="5.15" class="n">SCZ</text>
<text x="215.3" y="521.70" text-anchor="middle" font-size="5.15" class="n">-0.73 (-1.00, -0.47)</text>
<text x="177.0" y="533.40" text-anchor="middle" font-size="5.15" class="n">OCD</text>
<text x="215.3" y="533.40" text-anchor="middle" font-size="5.15" class="n">NA</text>
<text x="177.0" y="545.20" text-anchor="middle" font-size="5.15" class="n">MDD</text>
<text x="215.3" y="545.20" text-anchor="middle" font-size="5.15" class="n">NA</text>
<text x="177.0" y="556.80" text-anchor="middle" font-size="5.15" class="n">BD</text>
<text x="215.3" y="556.80" text-anchor="middle" font-size="5.15" class="n">-0.69 (-1.53, 0.13)</text>
<text x="177.0" y="568.80" text-anchor="middle" font-size="5.15" class="n">AD</text>
<text x="215.3" y="568.80" text-anchor="middle" font-size="5.15" class="n">NA</text>
<line x1="292.80" y1="511.30" x2="292.80" y2="575.60" stroke="#000" stroke-width="0.85" stroke-dasharray="1.8,1.0"/>
<line x1="267.66" y1="519.60" x2="281.21" y2="519.60" stroke="#3a55a0" stroke-width="0.75"/>
<line x1="267.66" y1="518.20" x2="267.66" y2="521.00" stroke="#3a55a0" stroke-width="0.75"/>
<line x1="281.21" y1="518.20" x2="281.21" y2="521.00" stroke="#3a55a0" stroke-width="0.75"/>
<rect x="273.06" y="518.20" width="3.0" height="2.8" rx="0.9" fill="#0c2577"/>
<line x1="254.11" y1="555.60" x2="296.54" y2="555.60" stroke="#f2767b" stroke-width="0.75"/>
<line x1="254.11" y1="554.20" x2="254.11" y2="557.00" stroke="#f2767b" stroke-width="0.75"/>
<line x1="296.54" y1="554.20" x2="296.54" y2="557.00" stroke="#f2767b" stroke-width="0.75"/>
<rect x="274.13" y="554.20" width="2.9" height="2.8" rx="0.4" fill="#e60f1e"/>
<line x1="241.80" y1="575.60" x2="306.30" y2="575.60" stroke="#000" stroke-width="0.75"/>
<line x1="242.10" y1="575.60" x2="242.10" y2="577.80" stroke="#000" stroke-width="0.8"/>
<text x="242.10" y="583.40" text-anchor="middle" font-size="4.8" class="b">-2.0</text>
<line x1="254.88" y1="575.60" x2="254.88" y2="577.80" stroke="#000" stroke-width="0.8"/>
<text x="254.88" y="583.40" text-anchor="middle" font-size="4.8" class="b">-1.5</text>
<line x1="267.66" y1="575.60" x2="267.66" y2="577.80" stroke="#000" stroke-width="0.8"/>
<text x="267.66" y="583.40" text-anchor="middle" font-size="4.8" class="b">-1.0</text>
<line x1="280.44" y1="575.60" x2="280.44" y2="577.80" stroke="#000" stroke-width="0.8"/>
<text x="280.44" y="583.40" text-anchor="middle" font-size="4.8" class="b">-0.5</text>
<line x1="293.22" y1="575.60" x2="293.22" y2="577.80" stroke="#000" stroke-width="0.8"/>
<text x="293.22" y="583.40" text-anchor="middle" font-size="4.8" class="b">0.0</text>
<line x1="306.00" y1="575.60" x2="306.00" y2="577.80" stroke="#000" stroke-width="0.8"/>
<text x="306.00" y="583.40" text-anchor="middle" font-size="4.8" class="b">0.5</text>
<text x="273.75" y="590.80" text-anchor="middle" font-size="5.2" class="b">Mean Difference</text>
<rect x="317.35" y="8.55" width="61.30" height="30.95" fill="#ee2a24"/>
<rect x="378.65" y="8.55" width="61.05" height="30.95" fill="#e0f2f9"/>
<rect x="439.70" y="8.55" width="61.25" height="30.95" fill="#e0f2f9"/>
<rect x="500.95" y="8.55" width="61.10" height="30.95" fill="#e0f2f9"/>
<rect x="562.05" y="8.55" width="61.15" height="30.95" fill="#e0f2f9"/>
<rect x="623.20" y="8.55" width="61.10" height="30.95" fill="#e0f2f9"/>
<rect x="317.35" y="39.50" width="61.30" height="31.05" fill="#fdb5a1"/>
<rect x="378.65" y="39.50" width="61.05" height="31.05" fill="#ee2a24"/>
<rect x="439.70" y="39.50" width="61.25" height="31.05" fill="#e0f2f9"/>
<rect x="500.95" y="39.50" width="61.10" height="31.05" fill="#e0f2f9"/>
<rect x="562.05" y="39.50" width="61.15" height="31.05" fill="#e0f2f9"/>
<rect x="623.20" y="39.50" width="61.10" height="31.05" fill="#e0f2f9"/>
<rect x="317.35" y="70.55" width="61.30" height="31.00" fill="#fdb5a1"/>
<rect x="378.65" y="70.55" width="61.05" height="31.00" fill="#fdb5a1"/>
<rect x="439.70" y="70.55" width="61.25" height="31.00" fill="#ee2a24"/>
<rect x="500.95" y="70.55" width="61.10" height="31.00" fill="#e0f2f9"/>
<rect x="562.05" y="70.55" width="61.15" height="31.00" fill="#e0f2f9"/>
<rect x="623.20" y="70.55" width="61.10" height="31.00" fill="#e0f2f9"/>
<rect x="317.35" y="101.55" width="61.30" height="31.00" fill="#fdb5a1"/>
<rect x="378.65" y="101.55" width="61.05" height="31.00" fill="#fdb5a1"/>
<rect x="439.70" y="101.55" width="61.25" height="31.00" fill="#fdb5a1"/>
<rect x="500.95" y="101.55" width="61.10" height="31.00" fill="#ee2a24"/>
<rect x="562.05" y="101.55" width="61.15" height="31.00" fill="#e0f2f9"/>
<rect x="623.20" y="101.55" width="61.10" height="31.00" fill="#e0f2f9"/>
<rect x="317.35" y="132.55" width="61.30" height="30.95" fill="#fdb5a1"/>
<rect x="378.65" y="132.55" width="61.05" height="30.95" fill="#fdb5a1"/>
<rect x="439.70" y="132.55" width="61.25" height="30.95" fill="#fdb5a1"/>
<rect x="500.95" y="132.55" width="61.10" height="30.95" fill="#fdb5a1"/>
<rect x="562.05" y="132.55" width="61.15" height="30.95" fill="#ee2a24"/>
<rect x="623.20" y="132.55" width="61.10" height="30.95" fill="#e0f2f9"/>
<rect x="317.35" y="163.50" width="61.30" height="28.60" fill="#fdb5a1"/>
<rect x="378.65" y="163.50" width="61.05" height="28.60" fill="#fdb5a1"/>
<rect x="439.70" y="163.50" width="61.25" height="28.60" fill="#fdb5a1"/>
<rect x="500.95" y="163.50" width="61.10" height="28.60" fill="#fdb5a1"/>
<rect x="562.05" y="163.50" width="61.15" height="28.60" fill="#fdb5a1"/>
<rect x="623.20" y="163.50" width="61.10" height="28.60" fill="#ee2a24"/>
<line x1="317.35" y1="7.95" x2="317.35" y2="192.70" stroke="#000" stroke-width="1.3"/>
<line x1="378.65" y1="7.95" x2="378.65" y2="192.70" stroke="#000" stroke-width="1.3"/>
<line x1="439.70" y1="7.95" x2="439.70" y2="192.70" stroke="#000" stroke-width="1.3"/>
<line x1="500.95" y1="7.95" x2="500.95" y2="192.70" stroke="#000" stroke-width="1.3"/>
<line x1="562.05" y1="7.95" x2="562.05" y2="192.70" stroke="#000" stroke-width="1.3"/>
<line x1="623.20" y1="7.95" x2="623.20" y2="192.70" stroke="#000" stroke-width="1.3"/>
<line x1="684.30" y1="7.95" x2="684.30" y2="192.70" stroke="#000" stroke-width="1.3"/>
<line x1="316.75" y1="8.55" x2="684.90" y2="8.55" stroke="#000" stroke-width="1.3"/>
<line x1="316.75" y1="39.50" x2="684.90" y2="39.50" stroke="#000" stroke-width="1.3"/>
<line x1="316.75" y1="70.55" x2="684.90" y2="70.55" stroke="#000" stroke-width="1.3"/>
<line x1="316.75" y1="101.55" x2="684.90" y2="101.55" stroke="#000" stroke-width="1.3"/>
<line x1="316.75" y1="132.55" x2="684.90" y2="132.55" stroke="#000" stroke-width="1.3"/>
<line x1="316.75" y1="163.50" x2="684.90" y2="163.50" stroke="#000" stroke-width="1.3"/>
<line x1="316.75" y1="192.10" x2="684.90" y2="192.10" stroke="#000" stroke-width="1.3"/>
<text transform="translate(348.00,26.97) scale(1,1.08)" text-anchor="middle" font-size="7.8" font-weight="bold" fill="#fff" stroke="#fff" stroke-width="0.12">SCZ</text>
<text x="409.17" y="22.72" text-anchor="middle" font-size="5.7" letter-spacing="0.24" class="n">-0.35</text>
<text x="409.17" y="29.97" text-anchor="middle" font-size="5.7" letter-spacing="0.24" class="n">(-2.05, 1.35)</text>
<text x="470.32" y="22.72" text-anchor="middle" font-size="5.7" letter-spacing="0.24" font-weight="bold" class="bc">-7.89</text>
<text x="470.32" y="29.97" text-anchor="middle" font-size="5.7" letter-spacing="0.24" font-weight="bold" class="bc">(-14.36, -1.52)</text>
<text x="531.50" y="22.72" text-anchor="middle" font-size="5.7" letter-spacing="0.24" class="n">-0.45</text>
<text x="531.50" y="29.97" text-anchor="middle" font-size="5.7" letter-spacing="0.24" class="n">(-5.27, 4.54)</text>
<text x="592.62" y="22.72" text-anchor="middle" font-size="5.7" letter-spacing="0.24" class="n">2.00</text>
<text x="592.62" y="29.97" text-anchor="middle" font-size="5.7" letter-spacing="0.24" class="n">(-2.37, 6.22)</text>
<text x="653.75" y="22.72" text-anchor="middle" font-size="5.7" letter-spacing="0.24" font-weight="bold" class="bc">1.07</text>
<text x="653.75" y="29.97" text-anchor="middle" font-size="5.7" letter-spacing="0.24" font-weight="bold" class="bc">(0.38, 1.74)</text>
<text x="348.00" y="53.73" text-anchor="middle" font-size="5.7" letter-spacing="0.24" class="n">-0.43</text>
<text x="348.00" y="60.98" text-anchor="middle" font-size="5.7" letter-spacing="0.24" class="n">(-0.89, 0.02)</text>
<text transform="translate(409.17,57.98) scale(1,1.08)" text-anchor="middle" font-size="7.8" font-weight="bold" fill="#fff" stroke="#fff" stroke-width="0.12">BD</text>
<text x="470.32" y="53.73" text-anchor="middle" font-size="5.7" letter-spacing="0.24" font-weight="bold" class="bc">-7.52</text>
<text x="470.32" y="60.98" text-anchor="middle" font-size="5.7" letter-spacing="0.24" font-weight="bold" class="bc">(-14.27, -0.99)</text>
<text x="531.50" y="53.73" text-anchor="middle" font-size="5.7" letter-spacing="0.24" class="n">-0.11</text>
<text x="531.50" y="60.98" text-anchor="middle" font-size="5.7" letter-spacing="0.24" class="n">(-5.15, 5.00)</text>
<text x="592.62" y="53.73" text-anchor="middle" font-size="5.7" letter-spacing="0.24" class="n">2.34</text>
<text x="592.62" y="60.98" text-anchor="middle" font-size="5.7" letter-spacing="0.24" class="n">(-2.26, 6.81)</text>
<text x="653.75" y="53.73" text-anchor="middle" font-size="5.7" letter-spacing="0.24" class="n">1.42</text>
<text x="653.75" y="60.98" text-anchor="middle" font-size="5.7" letter-spacing="0.24" class="n">(-0.21, 3.02)</text>
<text x="348.00" y="84.75" text-anchor="middle" font-size="5.7" letter-spacing="0.24" class="n">0.04</text>
<text x="348.00" y="92.00" text-anchor="middle" font-size="5.7" letter-spacing="0.24" class="n">(-1.04, 1.12)</text>
<text x="409.17" y="84.75" text-anchor="middle" font-size="5.7" letter-spacing="0.24" class="n">0.48</text>
<text x="409.17" y="92.00" text-anchor="middle" font-size="5.7" letter-spacing="0.24" class="n">(-0.69, 1.65)</text>
<text transform="translate(470.32,89.00) scale(1,1.08)" text-anchor="middle" font-size="7.8" font-weight="bold" fill="#fff" stroke="#fff" stroke-width="0.12">MDD</text>
<text x="531.50" y="84.75" text-anchor="middle" font-size="5.7" letter-spacing="0.24" class="n">7.49</text>
<text x="531.50" y="92.00" text-anchor="middle" font-size="5.7" letter-spacing="0.24" class="n">(-0.44, 15.49)</text>
<text x="592.62" y="84.75" text-anchor="middle" font-size="5.7" letter-spacing="0.24" font-weight="bold" class="bc">9.86</text>
<text x="592.62" y="92.00" text-anchor="middle" font-size="5.7" letter-spacing="0.24" font-weight="bold" class="bc">(2.35, 17.73)</text>
<text x="653.75" y="84.75" text-anchor="middle" font-size="5.7" letter-spacing="0.24" font-weight="bold" class="bc">8.95</text>
<text x="653.75" y="92.00" text-anchor="middle" font-size="5.7" letter-spacing="0.24" font-weight="bold" class="bc">(2.63, 15.39)</text>
<text x="348.00" y="115.75" text-anchor="middle" font-size="5.7" letter-spacing="0.24" class="n">-0.43</text>
<text x="348.00" y="123.00" text-anchor="middle" font-size="5.7" letter-spacing="0.24" class="n">(-1.46, 0.64)</text>
<text x="409.17" y="115.75" text-anchor="middle" font-size="5.7" letter-spacing="0.24" class="n">0.01</text>
<text x="409.17" y="123.00" text-anchor="middle" font-size="5.7" letter-spacing="0.24" class="n">(-1.09, 1.14)</text>
<text x="470.32" y="115.75" text-anchor="middle" font-size="5.7" letter-spacing="0.24" class="n">-0.47</text>
<text x="470.32" y="123.00" text-anchor="middle" font-size="5.7" letter-spacing="0.24" class="n">(-1.94, 1.05)</text>
<text transform="translate(531.50,120.00) scale(1,1.08)" text-anchor="middle" font-size="7.8" font-weight="bold" fill="#fff" stroke="#fff" stroke-width="0.12">OCD</text>
<text x="592.62" y="115.75" text-anchor="middle" font-size="5.7" letter-spacing="0.24" class="n">2.46</text>
<text x="592.62" y="123.00" text-anchor="middle" font-size="5.7" letter-spacing="0.24" class="n">(-4.16, 8.87)</text>
<text x="653.75" y="115.75" text-anchor="middle" font-size="5.7" letter-spacing="0.24" class="n">1.52</text>
<text x="653.75" y="123.00" text-anchor="middle" font-size="5.7" letter-spacing="0.24" class="n">(-3.40, 6.29)</text>
<text x="348.00" y="146.72" text-anchor="middle" font-size="5.7" letter-spacing="0.24" class="n">-0.45</text>
<text x="348.00" y="153.97" text-anchor="middle" font-size="5.7" letter-spacing="0.24" class="n">(-1.37, 0.45)</text>
<text x="409.17" y="146.72" text-anchor="middle" font-size="5.7" letter-spacing="0.24" class="n">-0.02</text>
<text x="409.17" y="153.97" text-anchor="middle" font-size="5.7" letter-spacing="0.24" class="n">(-1.03, 0.98)</text>
<text x="470.32" y="146.72" text-anchor="middle" font-size="5.7" letter-spacing="0.24" class="n">-0.49</text>
<text x="470.32" y="153.97" text-anchor="middle" font-size="5.7" letter-spacing="0.24" class="n">(-1.47, 0.47)</text>
<text x="531.50" y="146.72" text-anchor="middle" font-size="5.7" letter-spacing="0.24" class="n">-0.03</text>
<text x="531.50" y="153.97" text-anchor="middle" font-size="5.7" letter-spacing="0.24" class="n">(-1.43, 1.32)</text>
<text transform="translate(592.62,150.97) scale(1,1.08)" text-anchor="middle" font-size="7.8" font-weight="bold" fill="#fff" stroke="#fff" stroke-width="0.12">AD</text>
<text x="653.75" y="146.72" text-anchor="middle" font-size="5.7" letter-spacing="0.24" class="n">-0.93</text>
<text x="653.75" y="153.97" text-anchor="middle" font-size="5.7" letter-spacing="0.24" class="n">(-5.11, 3.41)</text>
<text x="348.00" y="176.15" text-anchor="middle" font-size="5.7" letter-spacing="0.24" font-weight="bold" class="bc">-0.43</text>
<text x="348.00" y="183.40" text-anchor="middle" font-size="5.7" letter-spacing="0.24" font-weight="bold" class="bc">(-0.59, -0.27)</text>
<text x="409.17" y="176.15" text-anchor="middle" font-size="5.7" letter-spacing="0.24" class="n">9.76 × 10<tspan dy="-2" font-size="3.8">4</tspan></text>
<text x="409.17" y="183.40" text-anchor="middle" font-size="5.7" letter-spacing="0.24" class="n">(-0.44, 0.44)</text>
<text x="470.32" y="176.15" text-anchor="middle" font-size="5.7" letter-spacing="0.24" class="n">-0.48</text>
<text x="470.32" y="183.40" text-anchor="middle" font-size="5.7" letter-spacing="0.24" class="n">(-1.54, 0.61)</text>
<text x="531.50" y="176.15" text-anchor="middle" font-size="5.7" letter-spacing="0.24" class="n">-0.01</text>
<text x="531.50" y="183.40" text-anchor="middle" font-size="5.7" letter-spacing="0.24" class="n">(-1.05, 1.00)</text>
<text x="592.62" y="176.15" text-anchor="middle" font-size="5.7" letter-spacing="0.24" class="n">0.02</text>
<text x="592.62" y="183.40" text-anchor="middle" font-size="5.7" letter-spacing="0.24" class="n">(-0.87, 0.92)</text>
<text transform="translate(653.75,180.75) scale(1,1.08)" text-anchor="middle" font-size="7.8" font-weight="bold" fill="#fff" stroke="#fff" stroke-width="0.12">HC</text>
<rect x="317.35" y="209.50" width="61.30" height="31.00" fill="#ee2a24"/>
<rect x="378.65" y="209.50" width="61.05" height="31.00" fill="#e0f2f9"/>
<rect x="439.70" y="209.50" width="61.25" height="31.00" fill="#e0f2f9"/>
<rect x="500.95" y="209.50" width="61.10" height="31.00" fill="#e0f2f9"/>
<rect x="562.05" y="209.50" width="61.15" height="31.00" fill="#e0f2f9"/>
<rect x="623.20" y="209.50" width="61.10" height="31.00" fill="#e0f2f9"/>
<rect x="317.35" y="240.50" width="61.30" height="31.00" fill="#fdb5a1"/>
<rect x="378.65" y="240.50" width="61.05" height="31.00" fill="#ee2a24"/>
<rect x="439.70" y="240.50" width="61.25" height="31.00" fill="#e0f2f9"/>
<rect x="500.95" y="240.50" width="61.10" height="31.00" fill="#e0f2f9"/>
<rect x="562.05" y="240.50" width="61.15" height="31.00" fill="#e0f2f9"/>
<rect x="623.20" y="240.50" width="61.10" height="31.00" fill="#e0f2f9"/>
<rect x="317.35" y="271.50" width="61.30" height="31.00" fill="#fdb5a1"/>
<rect x="378.65" y="271.50" width="61.05" height="31.00" fill="#fdb5a1"/>
<rect x="439.70" y="271.50" width="61.25" height="31.00" fill="#ee2a24"/>
<rect x="500.95" y="271.50" width="61.10" height="31.00" fill="#e0f2f9"/>
<rect x="562.05" y="271.50" width="61.15" height="31.00" fill="#e0f2f9"/>
<rect x="623.20" y="271.50" width="61.10" height="31.00" fill="#e0f2f9"/>
<rect x="317.35" y="302.50" width="61.30" height="31.10" fill="#fdb5a1"/>
<rect x="378.65" y="302.50" width="61.05" height="31.10" fill="#fdb5a1"/>
<rect x="439.70" y="302.50" width="61.25" height="31.10" fill="#fdb5a1"/>
<rect x="500.95" y="302.50" width="61.10" height="31.10" fill="#ee2a24"/>
<rect x="562.05" y="302.50" width="61.15" height="31.10" fill="#e0f2f9"/>
<rect x="623.20" y="302.50" width="61.10" height="31.10" fill="#e0f2f9"/>
<rect x="317.35" y="333.60" width="61.30" height="30.90" fill="#fdb5a1"/>
<rect x="378.65" y="333.60" width="61.05" height="30.90" fill="#fdb5a1"/>
<rect x="439.70" y="333.60" width="61.25" height="30.90" fill="#fdb5a1"/>
<rect x="500.95" y="333.60" width="61.10" height="30.90" fill="#fdb5a1"/>
<rect x="562.05" y="333.60" width="61.15" height="30.90" fill="#ee2a24"/>
<rect x="623.20" y="333.60" width="61.10" height="30.90" fill="#e0f2f9"/>
<rect x="317.35" y="364.50" width="61.30" height="28.70" fill="#fdb5a1"/>
<rect x="378.65" y="364.50" width="61.05" height="28.70" fill="#fdb5a1"/>
<rect x="439.70" y="364.50" width="61.25" height="28.70" fill="#fdb5a1"/>
<rect x="500.95" y="364.50" width="61.10" height="28.70" fill="#fdb5a1"/>
<rect x="562.05" y="364.50" width="61.15" height="28.70" fill="#fdb5a1"/>
<rect x="623.20" y="364.50" width="61.10" height="28.70" fill="#ee2a24"/>
<line x1="317.35" y1="208.90" x2="317.35" y2="393.80" stroke="#000" stroke-width="1.3"/>
<line x1="378.65" y1="208.90" x2="378.65" y2="393.80" stroke="#000" stroke-width="1.3"/>
<line x1="439.70" y1="208.90" x2="439.70" y2="393.80" stroke="#000" stroke-width="1.3"/>
<line x1="500.95" y1="208.90" x2="500.95" y2="393.80" stroke="#000" stroke-width="1.3"/>
<line x1="562.05" y1="208.90" x2="562.05" y2="393.80" stroke="#000" stroke-width="1.3"/>
<line x1="623.20" y1="208.90" x2="623.20" y2="393.80" stroke="#000" stroke-width="1.3"/>
<line x1="684.30" y1="208.90" x2="684.30" y2="393.80" stroke="#000" stroke-width="1.3"/>
<line x1="316.75" y1="209.50" x2="684.90" y2="209.50" stroke="#000" stroke-width="1.3"/>
<line x1="316.75" y1="240.50" x2="684.90" y2="240.50" stroke="#000" stroke-width="1.3"/>
<line x1="316.75" y1="271.50" x2="684.90" y2="271.50" stroke="#000" stroke-width="1.3"/>
<line x1="316.75" y1="302.50" x2="684.90" y2="302.50" stroke="#000" stroke-width="1.3"/>
<line x1="316.75" y1="333.60" x2="684.90" y2="333.60" stroke="#000" stroke-width="1.3"/>
<line x1="316.75" y1="364.50" x2="684.90" y2="364.50" stroke="#000" stroke-width="1.3"/>
<line x1="316.75" y1="393.20" x2="684.90" y2="393.20" stroke="#000" stroke-width="1.3"/>
<text transform="translate(348.00,227.95) scale(1,1.08)" text-anchor="middle" font-size="7.8" font-weight="bold" fill="#fff" stroke="#fff" stroke-width="0.12">SCZ</text>
<text x="409.17" y="223.70" text-anchor="middle" font-size="5.7" letter-spacing="0.24" class="n">0.83</text>
<text x="409.17" y="230.95" text-anchor="middle" font-size="5.7" letter-spacing="0.24" class="n">(-1.55, 3.67)</text>
<text x="470.32" y="223.70" text-anchor="middle" font-size="5.7" letter-spacing="0.24" class="n">-6.35</text>
<text x="470.32" y="230.95" text-anchor="middle" font-size="5.7" letter-spacing="0.24" class="n">(-13.34, 0.66)</text>
<text x="531.50" y="223.70" text-anchor="middle" font-size="5.7" letter-spacing="0.24" class="n">-2.77</text>
<text x="531.50" y="230.95" text-anchor="middle" font-size="5.7" letter-spacing="0.24" class="n">(-8.96, 3.51)</text>
<text x="592.62" y="223.70" text-anchor="middle" font-size="5.7" letter-spacing="0.24" class="n">-4.11</text>
<text x="592.62" y="230.95" text-anchor="middle" font-size="5.7" letter-spacing="0.24" class="n">(-11.01, 2.79)</text>
<text x="653.75" y="223.70" text-anchor="middle" font-size="5.7" letter-spacing="0.24" font-weight="bold" class="bc">1.12</text>
<text x="653.75" y="230.95" text-anchor="middle" font-size="5.7" letter-spacing="0.24" font-weight="bold" class="bc">(0.12, 2.18)</text>
<text x="348.00" y="254.70" text-anchor="middle" font-size="5.7" letter-spacing="0.24" class="n">-0.01</text>
<text x="348.00" y="261.95" text-anchor="middle" font-size="5.7" letter-spacing="0.24" class="n">(-0.42, 0.40)</text>
<text transform="translate(409.17,258.95) scale(1,1.08)" text-anchor="middle" font-size="7.8" font-weight="bold" fill="#fff" stroke="#fff" stroke-width="0.12">BD</text>
<text x="470.32" y="254.70" text-anchor="middle" font-size="5.7" letter-spacing="0.24" class="n">-7.20</text>
<text x="470.32" y="261.95" text-anchor="middle" font-size="5.7" letter-spacing="0.24" class="n">(-14.53, 0.08)</text>
<text x="531.50" y="254.70" text-anchor="middle" font-size="5.7" letter-spacing="0.24" class="n">-3.65</text>
<text x="531.50" y="261.95" text-anchor="middle" font-size="5.7" letter-spacing="0.24" class="n">(-10.36, 3.05)</text>
<text x="592.62" y="254.70" text-anchor="middle" font-size="5.7" letter-spacing="0.24" class="n">-4.96</text>
<text x="592.62" y="261.95" text-anchor="middle" font-size="5.7" letter-spacing="0.24" class="n">(-12.35, 2.22)</text>
<text x="653.75" y="254.70" text-anchor="middle" font-size="5.7" letter-spacing="0.24" class="n">0.28</text>
<text x="653.75" y="261.95" text-anchor="middle" font-size="5.7" letter-spacing="0.24" class="n">(-2.39, 2.62)</text>
<text x="348.00" y="285.70" text-anchor="middle" font-size="5.7" letter-spacing="0.24" class="n">-0.22</text>
<text x="348.00" y="292.95" text-anchor="middle" font-size="5.7" letter-spacing="0.24" class="n">(-1.11, 0.65)</text>
<text x="409.17" y="285.70" text-anchor="middle" font-size="5.7" letter-spacing="0.24" class="n">-0.21</text>
<text x="409.17" y="292.95" text-anchor="middle" font-size="5.7" letter-spacing="0.24" class="n">(-1.19, 0.75)</text>
<text transform="translate(470.32,289.95) scale(1,1.08)" text-anchor="middle" font-size="7.8" font-weight="bold" fill="#fff" stroke="#fff" stroke-width="0.12">MDD</text>
<text x="531.50" y="285.70" text-anchor="middle" font-size="5.7" letter-spacing="0.24" class="n">3.57</text>
<text x="531.50" y="292.95" text-anchor="middle" font-size="5.7" letter-spacing="0.24" class="n">(-5.79, 12.95)</text>
<text x="592.62" y="285.70" text-anchor="middle" font-size="5.7" letter-spacing="0.24" class="n">2.23</text>
<text x="592.62" y="292.95" text-anchor="middle" font-size="5.7" letter-spacing="0.24" class="n">(-3.72, 8.15)</text>
<text x="653.75" y="285.70" text-anchor="middle" font-size="5.7" letter-spacing="0.24" font-weight="bold" class="bc">7.47</text>
<text x="653.75" y="292.95" text-anchor="middle" font-size="5.7" letter-spacing="0.24" font-weight="bold" class="bc">(0.57, 14.34)</text>
<text x="348.00" y="316.75" text-anchor="middle" font-size="5.7" letter-spacing="0.24" class="n">-0.01</text>
<text x="348.00" y="324.00" text-anchor="middle" font-size="5.7" letter-spacing="0.24" class="n">(-0.91, 0.93)</text>
<text x="409.17" y="316.75" text-anchor="middle" font-size="5.7" letter-spacing="0.24" class="n">3.99×10<tspan dy="-2" font-size="3.8">3</tspan></text>
<text x="409.17" y="324.00" text-anchor="middle" font-size="5.7" letter-spacing="0.24" class="n">(-0.99, 1.01)</text>
<text x="470.32" y="316.75" text-anchor="middle" font-size="5.7" letter-spacing="0.24" class="n">0.21</text>
<text x="470.32" y="324.00" text-anchor="middle" font-size="5.7" letter-spacing="0.24" class="n">(-1.01, 1.50)</text>
<text transform="translate(531.50,321.00) scale(1,1.08)" text-anchor="middle" font-size="7.8" font-weight="bold" fill="#fff" stroke="#fff" stroke-width="0.12">OCD</text>
<text x="592.62" y="316.75" text-anchor="middle" font-size="5.7" letter-spacing="0.24" class="n">-1.31</text>
<text x="592.62" y="324.00" text-anchor="middle" font-size="5.7" letter-spacing="0.24" class="n">(-10.62, 7.93)</text>
<text x="653.75" y="316.75" text-anchor="middle" font-size="5.7" letter-spacing="0.24" class="n">3.87</text>
<text x="653.75" y="324.00" text-anchor="middle" font-size="5.7" letter-spacing="0.24" class="n">(-2.29, 10.03)</text>
<text x="348.00" y="347.75" text-anchor="middle" font-size="5.7" letter-spacing="0.24" class="n">-0.16</text>
<text x="348.00" y="355.00" text-anchor="middle" font-size="5.7" letter-spacing="0.24" class="n">(-0.86, 0.56)</text>
<text x="409.17" y="347.75" text-anchor="middle" font-size="5.7" letter-spacing="0.24" class="n">-0.14</text>
<text x="409.17" y="355.00" text-anchor="middle" font-size="5.7" letter-spacing="0.24" class="n">(-0.95, 0.67)</text>
<text x="470.32" y="347.75" text-anchor="middle" font-size="5.7" letter-spacing="0.24" class="n">0.06</text>
<text x="470.32" y="355.00" text-anchor="middle" font-size="5.7" letter-spacing="0.24" class="n">(-0.75, 0.91)</text>
<text x="531.50" y="347.75" text-anchor="middle" font-size="5.7" letter-spacing="0.24" class="n">-0.15</text>
<text x="531.50" y="355.00" text-anchor="middle" font-size="5.7" letter-spacing="0.24" class="n">(-1.28, 0.98)</text>
<text transform="translate(592.62,352.00) scale(1,1.08)" text-anchor="middle" font-size="7.8" font-weight="bold" fill="#fff" stroke="#fff" stroke-width="0.12">AD</text>
<text x="653.75" y="347.75" text-anchor="middle" font-size="5.7" letter-spacing="0.24" class="n">5.23</text>
<text x="653.75" y="355.00" text-anchor="middle" font-size="5.7" letter-spacing="0.24" class="n">(-1.57, 12.08)</text>
<text x="348.00" y="377.20" text-anchor="middle" font-size="5.7" letter-spacing="0.24" font-weight="bold" class="bc">0.51</text>
<text x="348.00" y="384.45" text-anchor="middle" font-size="5.7" letter-spacing="0.24" font-weight="bold" class="bc">(0.37, 0.66)</text>
<text x="409.17" y="377.20" text-anchor="middle" font-size="5.7" letter-spacing="0.24" font-weight="bold" class="bc">0.52</text>
<text x="409.17" y="384.45" text-anchor="middle" font-size="5.7" letter-spacing="0.24" font-weight="bold" class="bc">(0.12, 0.93)</text>
<text x="470.32" y="377.20" text-anchor="middle" font-size="5.7" letter-spacing="0.24" class="n">0.73</text>
<text x="470.32" y="384.45" text-anchor="middle" font-size="5.7" letter-spacing="0.24" class="n">(-0.13, 1.61)</text>
<text x="531.50" y="377.20" text-anchor="middle" font-size="5.7" letter-spacing="0.24" class="n">0.52</text>
<text x="531.50" y="384.45" text-anchor="middle" font-size="5.7" letter-spacing="0.24" class="n">(-0.40, 1.41)</text>
<text x="592.62" y="377.20" text-anchor="middle" font-size="5.7" letter-spacing="0.24" class="n">0.67</text>
<text x="592.62" y="384.45" text-anchor="middle" font-size="5.7" letter-spacing="0.24" class="n">(-0.03, 1.37)</text>
<text transform="translate(653.75,381.80) scale(1,1.08)" text-anchor="middle" font-size="7.8" font-weight="bold" fill="#fff" stroke="#fff" stroke-width="0.12">HC</text>
<rect x="317.35" y="410.70" width="61.30" height="31.00" fill="#ee2a24"/>
<rect x="378.65" y="410.70" width="61.05" height="31.00" fill="#e0f2f9"/>
<rect x="439.70" y="410.70" width="61.25" height="31.00" fill="#e0f2f9"/>
<rect x="500.95" y="410.70" width="61.10" height="31.00" fill="#e0f2f9"/>
<rect x="562.05" y="410.70" width="61.15" height="31.00" fill="#e0f2f9"/>
<rect x="623.20" y="410.70" width="61.10" height="31.00" fill="#e0f2f9"/>
<rect x="317.35" y="441.70" width="61.30" height="31.00" fill="#fdb5a1"/>
<rect x="378.65" y="441.70" width="61.05" height="31.00" fill="#ee2a24"/>
<rect x="439.70" y="441.70" width="61.25" height="31.00" fill="#e0f2f9"/>
<rect x="500.95" y="441.70" width="61.10" height="31.00" fill="#e0f2f9"/>
<rect x="562.05" y="441.70" width="61.15" height="31.00" fill="#e0f2f9"/>
<rect x="623.20" y="441.70" width="61.10" height="31.00" fill="#e0f2f9"/>
<rect x="317.35" y="472.70" width="61.30" height="31.00" fill="#fdb5a1"/>
<rect x="378.65" y="472.70" width="61.05" height="31.00" fill="#fdb5a1"/>
<rect x="439.70" y="472.70" width="61.25" height="31.00" fill="#ee2a24"/>
<rect x="500.95" y="472.70" width="61.10" height="31.00" fill="#e0f2f9"/>
<rect x="562.05" y="472.70" width="61.15" height="31.00" fill="#e0f2f9"/>
<rect x="623.20" y="472.70" width="61.10" height="31.00" fill="#e0f2f9"/>
<rect x="317.35" y="503.70" width="61.30" height="31.05" fill="#fdb5a1"/>
<rect x="378.65" y="503.70" width="61.05" height="31.05" fill="#fdb5a1"/>
<rect x="439.70" y="503.70" width="61.25" height="31.05" fill="#fdb5a1"/>
<rect x="500.95" y="503.70" width="61.10" height="31.05" fill="#ee2a24"/>
<rect x="562.05" y="503.70" width="61.15" height="31.05" fill="#e0f2f9"/>
<rect x="623.20" y="503.70" width="61.10" height="31.05" fill="#e0f2f9"/>
<rect x="317.35" y="534.75" width="61.30" height="31.00" fill="#fdb5a1"/>
<rect x="378.65" y="534.75" width="61.05" height="31.00" fill="#fdb5a1"/>
<rect x="439.70" y="534.75" width="61.25" height="31.00" fill="#fdb5a1"/>
<rect x="500.95" y="534.75" width="61.10" height="31.00" fill="#fdb5a1"/>
<rect x="562.05" y="534.75" width="61.15" height="31.00" fill="#ee2a24"/>
<rect x="623.20" y="534.75" width="61.10" height="31.00" fill="#e0f2f9"/>
<rect x="317.35" y="565.75" width="61.30" height="28.65" fill="#fdb5a1"/>
<rect x="378.65" y="565.75" width="61.05" height="28.65" fill="#fdb5a1"/>
<rect x="439.70" y="565.75" width="61.25" height="28.65" fill="#fdb5a1"/>
<rect x="500.95" y="565.75" width="61.10" height="28.65" fill="#fdb5a1"/>
<rect x="562.05" y="565.75" width="61.15" height="28.65" fill="#fdb5a1"/>
<rect x="623.20" y="565.75" width="61.10" height="28.65" fill="#ee2a24"/>
<line x1="317.35" y1="410.10" x2="317.35" y2="595.00" stroke="#000" stroke-width="1.3"/>
<line x1="378.65" y1="410.10" x2="378.65" y2="595.00" stroke="#000" stroke-width="1.3"/>
<line x1="439.70" y1="410.10" x2="439.70" y2="595.00" stroke="#000" stroke-width="1.3"/>
<line x1="500.95" y1="410.10" x2="500.95" y2="595.00" stroke="#000" stroke-width="1.3"/>
<line x1="562.05" y1="410.10" x2="562.05" y2="595.00" stroke="#000" stroke-width="1.3"/>
<line x1="623.20" y1="410.10" x2="623.20" y2="595.00" stroke="#000" stroke-width="1.3"/>
<line x1="684.30" y1="410.10" x2="684.30" y2="595.00" stroke="#000" stroke-width="1.3"/>
<line x1="316.75" y1="410.70" x2="684.90" y2="410.70" stroke="#000" stroke-width="1.3"/>
<line x1="316.75" y1="441.70" x2="684.90" y2="441.70" stroke="#000" stroke-width="1.3"/>
<line x1="316.75" y1="472.70" x2="684.90" y2="472.70" stroke="#000" stroke-width="1.3"/>
<line x1="316.75" y1="503.70" x2="684.90" y2="503.70" stroke="#000" stroke-width="1.3"/>
<line x1="316.75" y1="534.75" x2="684.90" y2="534.75" stroke="#000" stroke-width="1.3"/>
<line x1="316.75" y1="565.75" x2="684.90" y2="565.75" stroke="#000" stroke-width="1.3"/>
<line x1="316.75" y1="594.40" x2="684.90" y2="594.40" stroke="#000" stroke-width="1.3"/>
<text transform="translate(348.00,429.15) scale(1,1.08)" text-anchor="middle" font-size="7.8" font-weight="bold" fill="#fff" stroke="#fff" stroke-width="0.12">SCZ</text>
<text x="409.17" y="424.90" text-anchor="middle" font-size="5.7" letter-spacing="0.24" class="n">-0.04</text>
<text x="409.17" y="432.15" text-anchor="middle" font-size="5.7" letter-spacing="0.24" class="n">(-0.89, 0.84)</text>
<text x="470.32" y="428.80" text-anchor="middle" font-size="5.7" letter-spacing="0.24" class="n">NA</text>
<text x="531.50" y="428.80" text-anchor="middle" font-size="5.7" letter-spacing="0.24" class="n">NA</text>
<text x="592.62" y="428.80" text-anchor="middle" font-size="5.7" letter-spacing="0.24" class="n">NA</text>
<text x="653.75" y="424.90" text-anchor="middle" font-size="5.7" letter-spacing="0.24" font-weight="bold" class="bc">-0.73</text>
<text x="653.75" y="432.15" text-anchor="middle" font-size="5.7" letter-spacing="0.24" font-weight="bold" class="bc">(-1.00, -0.47)</text>
<text x="348.00" y="455.90" text-anchor="middle" font-size="5.7" letter-spacing="0.24" class="n">0.02</text>
<text x="348.00" y="463.15" text-anchor="middle" font-size="5.7" letter-spacing="0.24" class="n">(-0.13, 0.17)</text>
<text transform="translate(409.17,460.15) scale(1,1.08)" text-anchor="middle" font-size="7.8" font-weight="bold" fill="#fff" stroke="#fff" stroke-width="0.12">BD</text>
<text x="470.32" y="459.80" text-anchor="middle" font-size="5.7" letter-spacing="0.24" class="n">NA</text>
<text x="531.50" y="459.80" text-anchor="middle" font-size="5.7" letter-spacing="0.24" class="n">NA</text>
<text x="592.62" y="459.80" text-anchor="middle" font-size="5.7" letter-spacing="0.24" class="n">NA</text>
<text x="653.75" y="455.90" text-anchor="middle" font-size="5.7" letter-spacing="0.24" class="n">-0.69</text>
<text x="653.75" y="463.15" text-anchor="middle" font-size="5.7" letter-spacing="0.24" class="n">(-1.53, 0.13)</text>
<text x="348.00" y="486.90" text-anchor="middle" font-size="5.7" letter-spacing="0.24" class="n">0.20</text>
<text x="348.00" y="494.15" text-anchor="middle" font-size="5.7" letter-spacing="0.24" class="n">(-0.16, 0.57)</text>
<text x="409.17" y="486.90" text-anchor="middle" font-size="5.7" letter-spacing="0.24" class="n">0.18</text>
<text x="409.17" y="494.15" text-anchor="middle" font-size="5.7" letter-spacing="0.24" class="n">(-0.20, 0.57)</text>
<text transform="translate(470.32,491.15) scale(1,1.08)" text-anchor="middle" font-size="7.8" font-weight="bold" fill="#fff" stroke="#fff" stroke-width="0.12">MDD</text>
<text x="531.50" y="490.80" text-anchor="middle" font-size="5.7" letter-spacing="0.24" class="n">NA</text>
<text x="592.62" y="490.80" text-anchor="middle" font-size="5.7" letter-spacing="0.24" class="n">NA</text>
<text x="653.75" y="490.80" text-anchor="middle" font-size="5.7" letter-spacing="0.24" class="n">NA</text>
<text x="348.00" y="517.93" text-anchor="middle" font-size="5.7" letter-spacing="0.24" class="n">0.04</text>
<text x="348.00" y="525.18" text-anchor="middle" font-size="5.7" letter-spacing="0.24" class="n">(-0.33, 0.42)</text>
<text x="409.17" y="517.93" text-anchor="middle" font-size="5.7" letter-spacing="0.24" class="n">0.02</text>
<text x="409.17" y="525.18" text-anchor="middle" font-size="5.7" letter-spacing="0.24" class="n">(-0.38, 0.43)</text>
<text x="470.32" y="517.93" text-anchor="middle" font-size="5.7" letter-spacing="0.24" class="n">-0.16</text>
<text x="470.32" y="525.18" text-anchor="middle" font-size="5.7" letter-spacing="0.24" class="n">(-0.68, 0.35)</text>
<text transform="translate(531.50,522.18) scale(1,1.08)" text-anchor="middle" font-size="7.8" font-weight="bold" fill="#fff" stroke="#fff" stroke-width="0.12">OCD</text>
<text x="592.62" y="521.83" text-anchor="middle" font-size="5.7" letter-spacing="0.24" class="n">NA</text>
<text x="653.75" y="521.83" text-anchor="middle" font-size="5.7" letter-spacing="0.24" class="n">NA</text>
<text x="348.00" y="548.95" text-anchor="middle" font-size="5.7" letter-spacing="0.24" class="n">0.23</text>
<text x="348.00" y="556.20" text-anchor="middle" font-size="5.7" letter-spacing="0.24" class="n">(-0.11, 0.57)</text>
<text x="409.17" y="548.95" text-anchor="middle" font-size="5.7" letter-spacing="0.24" class="n">0.21</text>
<text x="409.17" y="556.20" text-anchor="middle" font-size="5.7" letter-spacing="0.24" class="n">(-0.16, 0.58)</text>
<text x="470.32" y="548.95" text-anchor="middle" font-size="5.7" letter-spacing="0.24" class="n">0.02</text>
<text x="470.32" y="556.20" text-anchor="middle" font-size="5.7" letter-spacing="0.24" class="n">(-0.39, 0.45)</text>
<text x="531.50" y="548.95" text-anchor="middle" font-size="5.7" letter-spacing="0.24" class="n">0.18</text>
<text x="531.50" y="556.20" text-anchor="middle" font-size="5.7" letter-spacing="0.24" class="n">(-0.32, 0.70)</text>
<text transform="translate(592.62,553.20) scale(1,1.08)" text-anchor="middle" font-size="7.8" font-weight="bold" fill="#fff" stroke="#fff" stroke-width="0.12">AD</text>
<text x="653.75" y="552.85" text-anchor="middle" font-size="5.7" letter-spacing="0.24" class="n">NA</text>
<text x="348.00" y="578.43" text-anchor="middle" font-size="5.7" letter-spacing="0.24" font-weight="bold" class="bc">0.25</text>
<text x="348.00" y="585.68" text-anchor="middle" font-size="5.7" letter-spacing="0.24" font-weight="bold" class="bc">(0.19, 0.30)</text>
<text x="409.17" y="578.43" text-anchor="middle" font-size="5.7" letter-spacing="0.24" font-weight="bold" class="bc">0.22</text>
<text x="409.17" y="585.68" text-anchor="middle" font-size="5.7" letter-spacing="0.24" font-weight="bold" class="bc">(0.08, 0.37)</text>
<text x="470.32" y="578.43" text-anchor="middle" font-size="5.7" letter-spacing="0.24" class="n">0.04</text>
<text x="470.32" y="585.68" text-anchor="middle" font-size="5.7" letter-spacing="0.24" class="n">(-0.32, 0.40)</text>
<text x="531.50" y="578.43" text-anchor="middle" font-size="5.7" letter-spacing="0.24" class="n">0.20</text>
<text x="531.50" y="585.68" text-anchor="middle" font-size="5.7" letter-spacing="0.24" class="n">(-0.17, 0.58)</text>
<text x="592.62" y="578.43" text-anchor="middle" font-size="5.7" letter-spacing="0.24" class="n">0.02</text>
<text x="592.62" y="585.68" text-anchor="middle" font-size="5.7" letter-spacing="0.24" class="n">(-0.32, 0.35)</text>
<text transform="translate(653.75,583.03) scale(1,1.08)" text-anchor="middle" font-size="7.8" font-weight="bold" fill="#fff" stroke="#fff" stroke-width="0.12">HC</text>
</svg>
</body></html>
